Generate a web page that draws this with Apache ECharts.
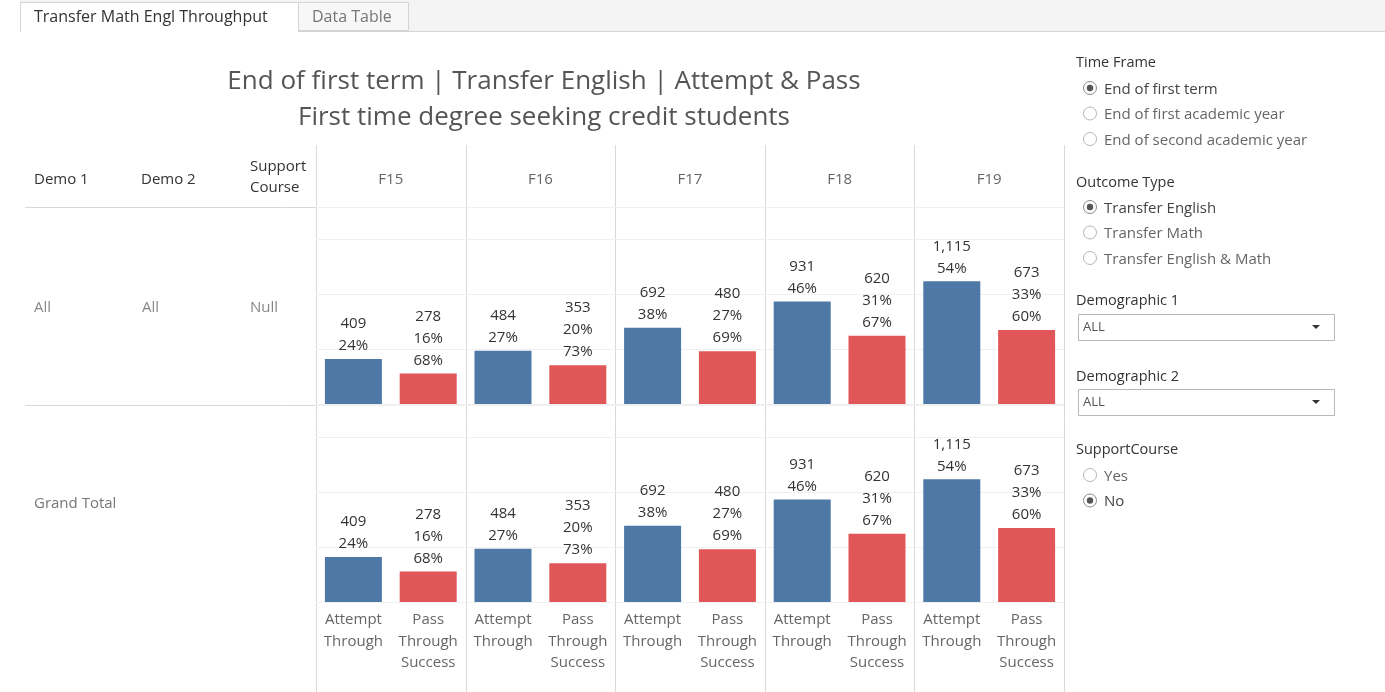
<!DOCTYPE html>
<html>
<head>
<meta charset="utf-8">
<script src="https://cdn.jsdelivr.net/npm/echarts@6/dist/echarts.min.js"></script>
<style>
  html, body { margin: 0; padding: 0; background: #fff; }
  #chart { width: 1385px; height: 692px; }
</style>
</head>
<body>
<div id="chart"></div>
<script>
// --- data ---
var periods = ['F15', 'F16', 'F17', 'F18', 'F19'];
var measures = ['Attempt\nThrough', 'Pass\nThrough\nSuccess'];
var attemptCount = [409, 484, 692, 931, 1115];
var attemptPct = [24, 27, 38, 46, 54];
var passCount = [278, 353, 480, 620, 673];
var passPct = [16, 20, 27, 31, 33];
var passRate = [68, 73, 69, 67, 60];
var rowLabels = [['All', 'All', 'Null'], ['Grand Total', '', '']];

// filter panel texts
var timeFrames = ['End of first term', 'End of first academic year', 'End of second academic year'];
var outcomeTypes = ['Transfer English', 'Transfer Math', 'Transfer English & Math'];
var supportOpts = ['Yes', 'No'];

var blue = '#4e79a7', red = '#e15759';
var FONT = '"Open Sans", Lato, sans-serif';

var dom = document.getElementById('chart');
var myChart = echarts.init(dom, null, { renderer: 'canvas' });

// layout of the crosstab
var panelLeft = 316, panelW = 149.6;
var rowTops = [207, 405], rowH = 197;

function fmt(n) { return n.toLocaleString('en-US'); }

var grids = [], xAxes = [], yAxes = [], series = [];
for (var r = 0; r < 2; r++) {
  for (var c = 0; c < periods.length; c++) {
    var idx = grids.length;
    grids.push({ left: panelLeft + c * panelW, width: panelW, top: rowTops[r], height: rowH });
    xAxes.push({
      type: 'category', gridIndex: idx, data: measures,
      axisLine: { show: false }, axisTick: { show: false },
      axisLabel: {
        show: r === 1, interval: 0, margin: 7, color: '#666',
        fontSize: 15, lineHeight: 21.5, fontFamily: FONT
      }
    });
    yAxes.push({
      type: 'value', gridIndex: idx, min: 0, max: 1790, interval: 500,
      axisLabel: { show: false }, axisLine: { show: false }, axisTick: { show: false },
      splitLine: { lineStyle: { color: '#f0f0f0', width: 1 } }
    });
    (function (c) {
      series.push({
        type: 'bar', xAxisIndex: idx, yAxisIndex: idx, barWidth: 57,
        data: [
          { value: attemptCount[c], itemStyle: { color: blue } },
          { value: passCount[c], itemStyle: { color: red } }
        ],
        label: {
          show: true, position: 'top', distance: 2,
          color: '#333', fontSize: 15, lineHeight: 22, fontFamily: FONT,
          formatter: function (p) {
            if (p.dataIndex === 0) return fmt(attemptCount[c]) + '\n' + attemptPct[c] + '%';
            return fmt(passCount[c]) + '\n' + passPct[c] + '%\n' + passRate[c] + '%';
          }
        }
      });
    })(c);
  }
}

function txt(x, y, s, extra) {
  return {
    type: 'text', x: x, y: y + 1.5, silent: true,
    style: Object.assign({ text: s, fill: '#333', font: '15px ' + FONT, verticalAlign: 'middle', align: 'left' }, extra || {})
  };
}
function line(x1, y1, x2, y2, color) {
  return { type: 'line', silent: true, shape: { x1: x1, y1: y1, x2: x2, y2: y2 }, style: { stroke: color || '#d9d9d9', lineWidth: 1 } };
}
function radio(x, y, label, checked) {
  var els = [
    { type: 'circle', silent: true, shape: { cx: x, cy: y, r: 6.5 }, style: { fill: '#fff', stroke: checked ? '#888' : '#b5b5b5', lineWidth: 1 } },
    txt(x + 14, y, label, { fill: checked ? '#444' : '#666' })
  ];
  if (checked) els.push({ type: 'circle', silent: true, shape: { cx: x, cy: y, r: 3.2 }, style: { fill: '#555' } });
  return els;
}
function dropdown(y, label) {
  return [
    { type: 'rect', silent: true, shape: { x: 1078.5, y: y + 0.5, width: 256, height: 26 }, style: { fill: '#fff', stroke: '#b8b8b8', lineWidth: 1 } },
    txt(1083, y + 12, label, { fill: '#555', font: '13px ' + FONT }),
    { type: 'polygon', silent: true, shape: { points: [[1312, y + 11], [1320, y + 11], [1316, y + 15]] }, style: { fill: '#333' } }
  ];
}

var g = [];
// tab strip
g.push({ type: 'rect', silent: true, shape: { x: 0, y: 0, width: 1385, height: 31 }, style: { fill: '#f4f4f4' } });
g.push({ type: 'rect', silent: true, shape: { x: 0, y: 0, width: 20, height: 31 }, style: { fill: '#fff' } });
g.push({ type: 'rect', silent: true, shape: { x: 20.5, y: 2.5, width: 278, height: 29 }, style: { fill: '#fff', stroke: '#d4d4d4', lineWidth: 1 } });
g.push({ type: 'rect', silent: true, shape: { x: 298.5, y: 2.5, width: 110, height: 28 }, style: { fill: '#f7f7f7', stroke: '#d4d4d4', lineWidth: 1 } });
g.push({ type: 'rect', silent: true, shape: { x: 21, y: 30, width: 277, height: 3 }, style: { fill: '#fff' } });
g.push(line(298, 31.5, 1385, 31.5, '#d4d4d4'));
g.push(txt(34, 16, 'Transfer Math Engl Throughput', { fill: '#333', font: '16px ' + FONT }));
g.push(txt(312, 16, 'Data Table', { fill: '#777', font: '16px ' + FONT }));

// title
g.push(txt(544, 80, 'End of first term | Transfer English | Attempt & Pass', { align: 'center', fill: '#555', font: '26px ' + FONT }));
g.push(txt(544, 116, 'First time degree seeking credit students', { align: 'center', fill: '#555', font: '26px ' + FONT }));

// crosstab header
g.push(txt(34, 178, 'Demo 1'));
g.push(txt(141, 178, 'Demo 2'));
g.push(txt(250, 165, 'Support'));
g.push(txt(250, 186, 'Course'));
periods.forEach(function (p, c) {
  g.push(txt(panelLeft + c * panelW + panelW / 2, 178, p, { align: 'center', fill: '#666' }));
});
// row headers
g.push(txt(34, 306, rowLabels[0][0], { fill: '#888' }));
g.push(txt(142, 306, rowLabels[0][1], { fill: '#888' }));
g.push(txt(250, 306, rowLabels[0][2], { fill: '#888' }));
g.push(txt(34, 502, rowLabels[1][0], { fill: '#777' }));

// table lines
g.push(line(25, 207.5, 1064, 207.5));
g.push(line(25, 405.5, 1064, 405.5));
g.push(line(316, 602.5, 1064, 602.5));
for (var k = 0; k <= periods.length; k++) {
  var xx = Math.round(panelLeft + k * panelW) + 0.5;
  g.push(line(xx, 145, xx, 692));
}

// filter panel
g.push(txt(1076, 61, 'Time Frame', { fill: '#333', font: '14.5px ' + FONT }));
timeFrames.forEach(function (t, i) { g = g.concat(radio(1090, 88 + i * 25.5, t, i === 0)); });
g.push(txt(1076, 181, 'Outcome Type', { fill: '#333', font: '14.5px ' + FONT }));
outcomeTypes.forEach(function (t, i) { g = g.concat(radio(1090, 207 + i * 25.5, t, i === 0)); });
g.push(txt(1076, 299, 'Demographic 1', { fill: '#333', font: '14.5px ' + FONT }));
g = g.concat(dropdown(314, 'ALL'));
g.push(txt(1076, 375, 'Demographic 2', { fill: '#333', font: '14.5px ' + FONT }));
g = g.concat(dropdown(389, 'ALL'));
g.push(txt(1076, 448, 'SupportCourse', { fill: '#333', font: '14.5px ' + FONT }));
supportOpts.forEach(function (t, i) { g = g.concat(radio(1090, 475 + i * 25.5, t, i === 1)); });

var option = {
  animation: false,
  grid: grids,
  xAxis: xAxes,
  yAxis: yAxes,
  series: series,
  graphic: g
};
myChart.setOption(option);
window.addEventListener('resize', myChart.resize);
</script>
</body>
</html>
